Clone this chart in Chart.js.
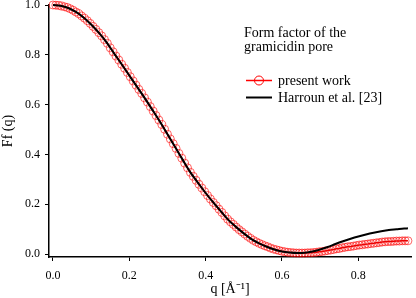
<!DOCTYPE html>
<html>
<head>
<meta charset="utf-8">
<script src="https://cdn.jsdelivr.net/npm/chart.js@4/dist/chart.umd.min.js"></script>
<style>
  body { margin: 0; background: #fff; }
  #wrap { position: relative; width: 416px; height: 298px; }
</style>
</head>
<body>
<div id="wrap"><canvas id="chart" width="416" height="298"></canvas></div>
<script>
// Harroun et al. [23] (black line)
const qHarroun = [0.00, 0.02, 0.04, 0.06, 0.08, 0.10, 0.12, 0.14, 0.16, 0.18,
  0.20, 0.22, 0.24, 0.26, 0.28, 0.30, 0.32, 0.34, 0.36, 0.38,
  0.40, 0.42, 0.44, 0.46, 0.48, 0.50, 0.52, 0.54, 0.56, 0.58,
  0.60, 0.62, 0.64, 0.66, 0.68, 0.70, 0.72, 0.74, 0.76, 0.78,
  0.80, 0.82, 0.84, 0.86, 0.88, 0.90, 0.92, 0.93];
const ffHarroun = [1.000, 0.997, 0.988, 0.972, 0.950, 0.922, 0.889, 0.851, 0.806, 0.762,
  0.717, 0.672, 0.627, 0.580, 0.532, 0.481, 0.430, 0.378, 0.328, 0.286,
  0.245, 0.207, 0.171, 0.136, 0.108, 0.083, 0.060, 0.043, 0.029, 0.018,
  0.010, 0.006, 0.004, 0.005, 0.010, 0.018, 0.028, 0.040, 0.051, 0.061,
  0.070, 0.078, 0.085, 0.091, 0.096, 0.099, 0.102, 0.103];

// present work (red circles)
const qPresent = [
  0.0000, 0.0075, 0.0150, 0.0225, 0.0300, 0.0375, 0.0450, 0.0525, 0.0600, 0.0675,
  0.0750, 0.0825, 0.0900, 0.0975, 0.1050, 0.1125, 0.1200, 0.1275, 0.1350, 0.1425,
  0.1500, 0.1575, 0.1650, 0.1725, 0.1800, 0.1875, 0.1950, 0.2025, 0.2100, 0.2175,
  0.2250, 0.2325, 0.2400, 0.2475, 0.2550, 0.2625, 0.2700, 0.2775, 0.2850, 0.2925,
  0.3000, 0.3075, 0.3150, 0.3225, 0.3300, 0.3375, 0.3450, 0.3525, 0.3600, 0.3675,
  0.3750, 0.3825, 0.3900, 0.3975, 0.4050, 0.4125, 0.4200, 0.4275, 0.4350, 0.4425,
  0.4500, 0.4575, 0.4650, 0.4725, 0.4800, 0.4875, 0.4950, 0.5025, 0.5100, 0.5175,
  0.5250, 0.5325, 0.5400, 0.5475, 0.5550, 0.5625, 0.5700, 0.5775, 0.5850, 0.5925,
  0.6000, 0.6075, 0.6150, 0.6225, 0.6300, 0.6375, 0.6450, 0.6525, 0.6600, 0.6675,
  0.6750, 0.6825, 0.6900, 0.6975, 0.7050, 0.7125, 0.7200, 0.7275, 0.7350, 0.7425,
  0.7500, 0.7575, 0.7650, 0.7725, 0.7800, 0.7875, 0.7950, 0.8025, 0.8100, 0.8175,
  0.8250, 0.8325, 0.8400, 0.8475, 0.8550, 0.8625, 0.8700, 0.8775, 0.8850, 0.8925,
  0.9000, 0.9075, 0.9150, 0.9225, 0.9300];
const ffPresent = [
  1.000, 0.999, 0.998, 0.996, 0.993, 0.990, 0.985, 0.979, 0.972, 0.965,
  0.956, 0.947, 0.937, 0.926, 0.914, 0.902, 0.889, 0.876, 0.861, 0.846,
  0.828, 0.812, 0.795, 0.779, 0.762, 0.746, 0.729, 0.712, 0.695, 0.678,
  0.661, 0.645, 0.627, 0.610, 0.592, 0.574, 0.556, 0.538, 0.520, 0.501,
  0.481, 0.462, 0.443, 0.424, 0.404, 0.385, 0.365, 0.346, 0.328, 0.312,
  0.296, 0.280, 0.265, 0.250, 0.235, 0.221, 0.207, 0.194, 0.180, 0.167,
  0.153, 0.140, 0.129, 0.119, 0.108, 0.098, 0.089, 0.080, 0.071, 0.063,
  0.055, 0.049, 0.043, 0.038, 0.033, 0.029, 0.024, 0.020, 0.017, 0.014,
  0.011, 0.009, 0.007, 0.006, 0.005, 0.004, 0.004, 0.004, 0.004, 0.005,
  0.005, 0.006, 0.007, 0.009, 0.010, 0.012, 0.014, 0.016, 0.018, 0.021,
  0.022, 0.025, 0.027, 0.029, 0.030, 0.032, 0.034, 0.036, 0.037, 0.039,
  0.040, 0.042, 0.043, 0.045, 0.046, 0.048, 0.049, 0.050, 0.050, 0.051,
  0.052, 0.052, 0.053, 0.053, 0.053];

const xTicks = [0, 0.2, 0.4, 0.6, 0.8];
const yTicks = [0, 0.2, 0.4, 0.6, 0.8, 1.0];

const legendTitle = ['Form factor of the', 'gramicidin pore'];
const legendLabels = ['present work', 'Harroun et al. [23]'];

const serif = '"Liberation Serif", "Times New Roman", serif';

const toPoints = (xs, ys) => xs.map((x, i) => ({ x: x, y: ys[i] }));

// legend drawn inside the plot, like the original
const legendPlugin = {
  id: 'ffLegend',
  afterDraw(chart) {
    const ctx = chart.ctx;
    ctx.save();
    ctx.fillStyle = '#000';
    ctx.font = '14px ' + serif;
    ctx.textBaseline = 'alphabetic';
    ctx.fillText(legendTitle[0], 244, 37);
    ctx.fillText(legendTitle[1], 244, 51);

    // red sample with circle
    ctx.strokeStyle = '#ff0000';
    ctx.lineWidth = 1.5;
    ctx.beginPath();
    ctx.moveTo(246, 80.5);
    ctx.lineTo(272, 80.5);
    ctx.stroke();
    ctx.lineWidth = 1;
    ctx.beginPath();
    ctx.arc(259, 80.5, 4.5, 0, Math.PI * 2);
    ctx.stroke();
    ctx.fillText(legendLabels[0], 278, 85);

    // black sample
    ctx.strokeStyle = '#000';
    ctx.lineWidth = 2;
    ctx.beginPath();
    ctx.moveTo(246, 97.5);
    ctx.lineTo(272, 97.5);
    ctx.stroke();
    ctx.fillText(legendLabels[1], 278, 102);
    ctx.restore();
  }
};

new Chart(document.getElementById('chart'), {
  type: 'line',
  data: {
    datasets: [
      {
        label: legendLabels[1],
        data: toPoints(qHarroun, ffHarroun),
        borderColor: '#000',
        borderWidth: 2,
        pointRadius: 0,
        cubicInterpolationMode: 'monotone',
        fill: false,
        clip: false
      },
      {
        label: legendLabels[0],
        data: toPoints(qPresent, ffPresent),
        borderColor: '#e00000',
        borderWidth: 1.5,
        pointRadius: 4,
        pointBorderWidth: 1,
        pointBorderColor: 'rgba(255,0,0,0.6)',
        pointBackgroundColor: 'rgba(0,0,0,0)',
        tension: 0,
        fill: false,
        clip: false
      }
    ]
  },
  options: {
    responsive: false,
    animation: false,
    events: [],
    layout: { padding: { top: 4, right: 2, bottom: 0, left: 0 } },
    plugins: { legend: { display: false }, tooltip: { enabled: false } },
    scales: {
      x: {
        type: 'linear',
        min: -0.0104,
        max: 0.938,
        afterBuildTicks: s => { s.ticks = xTicks.map(v => ({ value: v })); },
        afterFit: s => { s.height = 41; s.paddingLeft = 0; s.paddingRight = 0; },
        grid: { drawOnChartArea: false, color: '#000', tickLength: 4, lineWidth: 1 },
        border: { display: true, color: '#000', width: 1.5 },
        ticks: {
          color: '#000',
          padding: 8,
          maxRotation: 0,
          font: { family: serif, size: 12 },
          callback: v => v.toFixed(1)
        },
        title: {
          display: true,
          text: 'q [Å⁻¹]',
          color: '#000',
          padding: { top: 0, bottom: 0 },
          font: { family: serif, size: 14 }
        }
      },
      y: {
        type: 'linear',
        min: -0.012,
        max: 1.0,
        afterBuildTicks: s => { s.ticks = yTicks.map(v => ({ value: v })); },
        afterFit: s => { s.width = 49; s.paddingTop = 0; s.paddingBottom = 0; },
        grid: { drawOnChartArea: false, color: '#000', tickLength: 4, lineWidth: 1 },
        border: { display: true, color: '#000', width: 1.5 },
        ticks: {
          color: '#000',
          padding: 5,
          font: { family: serif, size: 12 },
          callback: v => v.toFixed(1)
        },
        title: {
          display: true,
          text: 'Ff (q)',
          color: '#000',
          padding: { top: 0, bottom: 0 },
          font: { family: serif, size: 14 }
        }
      }
    }
  },
  plugins: [legendPlugin]
});
</script>
</body>
</html>
